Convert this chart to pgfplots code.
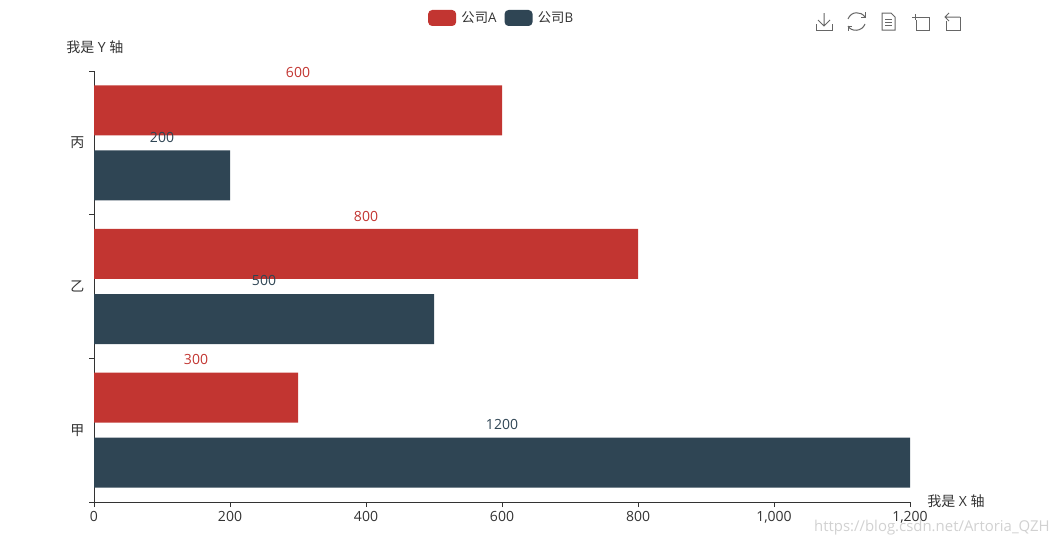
\documentclass[border=0pt]{standalone}
\usepackage{pgfplots}
\pgfplotsset{compat=1.18}
\usepackage{fontspec}
\setmainfont{Open Sans}
\newfontfamily\cjk{Noto Sans CJK SC}
\definecolor{cA}{HTML}{C23531}
\definecolor{cB}{HTML}{2F4554}
\definecolor{ax}{HTML}{333333}
\definecolor{ic}{HTML}{666666}
\begin{document}
\begin{tikzpicture}[x=0.75pt,y=-0.75pt]
  \path[use as bounding box] (0,0) rectangle (1059,544);
  \begin{axis}[at={(70.5pt,-376.5pt)}, anchor=south west,
               scale only axis, width=612pt, height=323.25pt,
               axis lines=left, axis line style={-, color=ax, line width=0.75pt},
               xmin=0, xmax=1200, ymin=0, ymax=3,
               xtick={0,200,...,1200},
               ytick={0,1,2,3},
               yticklabels={{\cjk 甲},{\cjk 乙},{\cjk 丙}},
               y tick label as interval,
               tick align=outside, major tick length=3.75pt,
               tick style={color=ax, line width=0.75pt},
               tick label style={color=ax, font=\fontsize{10.5}{12}\selectfont},
               /pgf/number format/assume math mode=true,
               /pgf/number format/1000 sep={,},
               scaled x ticks=false,
               clip=false,
               xbar, bar width=37.5pt,
               legend style={at={(0.5,1.123)}, anchor=center, draw=none, fill=none,
                             legend columns=2, font=\fontsize{10}{11}\selectfont,
                             text=ax,
                             /tikz/every odd column/.append style={column sep=2pt},
                             /tikz/every even column/.append style={column sep=4pt}},
               legend image code/.code={\path[#1, draw=none, rounded corners=3pt]
                 (0pt,-6pt) rectangle (21pt,6pt);}]
    % gongsi A
    \addplot[fill=cA, draw=none, bar shift=24.4pt] coordinates {(300,0.5) (800,1.5) (600,2.5)};
    % gongsi B
    \addplot[fill=cB, draw=none, bar shift=-24.4pt] coordinates {(1200,0.5) (500,1.5) (200,2.5)};
    \legend{{\cjk 公司}A,{\cjk 公司}B}
    \node[cA, font=\fontsize{10.5}{12}\selectfont] at (axis cs:150,0.99) {300};
    \node[cA, font=\fontsize{10.5}{12}\selectfont] at (axis cs:400,1.99) {800};
    \node[cA, font=\fontsize{10.5}{12}\selectfont] at (axis cs:300,2.99) {600};
    \node[cB, font=\fontsize{10.5}{12}\selectfont] at (axis cs:600,0.54) {1200};
    \node[cB, font=\fontsize{10.5}{12}\selectfont] at (axis cs:250,1.54) {500};
    \node[cB, font=\fontsize{10.5}{12}\selectfont] at (axis cs:100,2.54) {200};
  \end{axis}
  \node[ax, font=\fontsize{10.5}{12}\selectfont, anchor=west, inner sep=0pt] at (66,47) {{\cjk 我是} Y {\cjk 轴}};
  \node[ax, font=\fontsize{10.5}{12}\selectfont, anchor=west, inner sep=0pt] at (927,501) {{\cjk 我是} X {\cjk 轴}};
  \node[black!18, font=\fontsize{11.2}{13}\selectfont, anchor=east, inner sep=0pt] at (1050,528) {https://blog.csdn.net/Artoria\_QZH};
  % toolbox
  \begin{scope}[ic, line width=0.75pt]
    \draw (816,24) -- (816,30) -- (832,30) -- (832,24);
    \draw (824,13) -- (824,26) (818,20) -- (824,26) -- (830,20);
    \draw (848,19) .. controls (851,11) and (861,11) .. (865,17);
    \draw (861,17) -- (865,17) -- (865,12);
    \draw (865,24) .. controls (862,32) and (851,32) .. (848,26);
    \draw (852,26) -- (848,26) -- (848,31);
    \draw (882,13) -- (891,13) -- (895,17) -- (895,30) -- (882,30) -- cycle;
    \draw (885,19) -- (892,19) (885,22) -- (892,22) (885,25) -- (892,25);
    \draw (912,17) -- (918,17) (915,14) -- (915,20) (918,17) -- (929,17) -- (929,30) -- (916,30) -- (916,20);
    \draw (960,17) -- (945,17) (949,13) -- (945,17) -- (949,21);
    \draw (960,17) -- (960,30) -- (946,30) -- (946,21);
  \end{scope}
\end{tikzpicture}
\end{document}
